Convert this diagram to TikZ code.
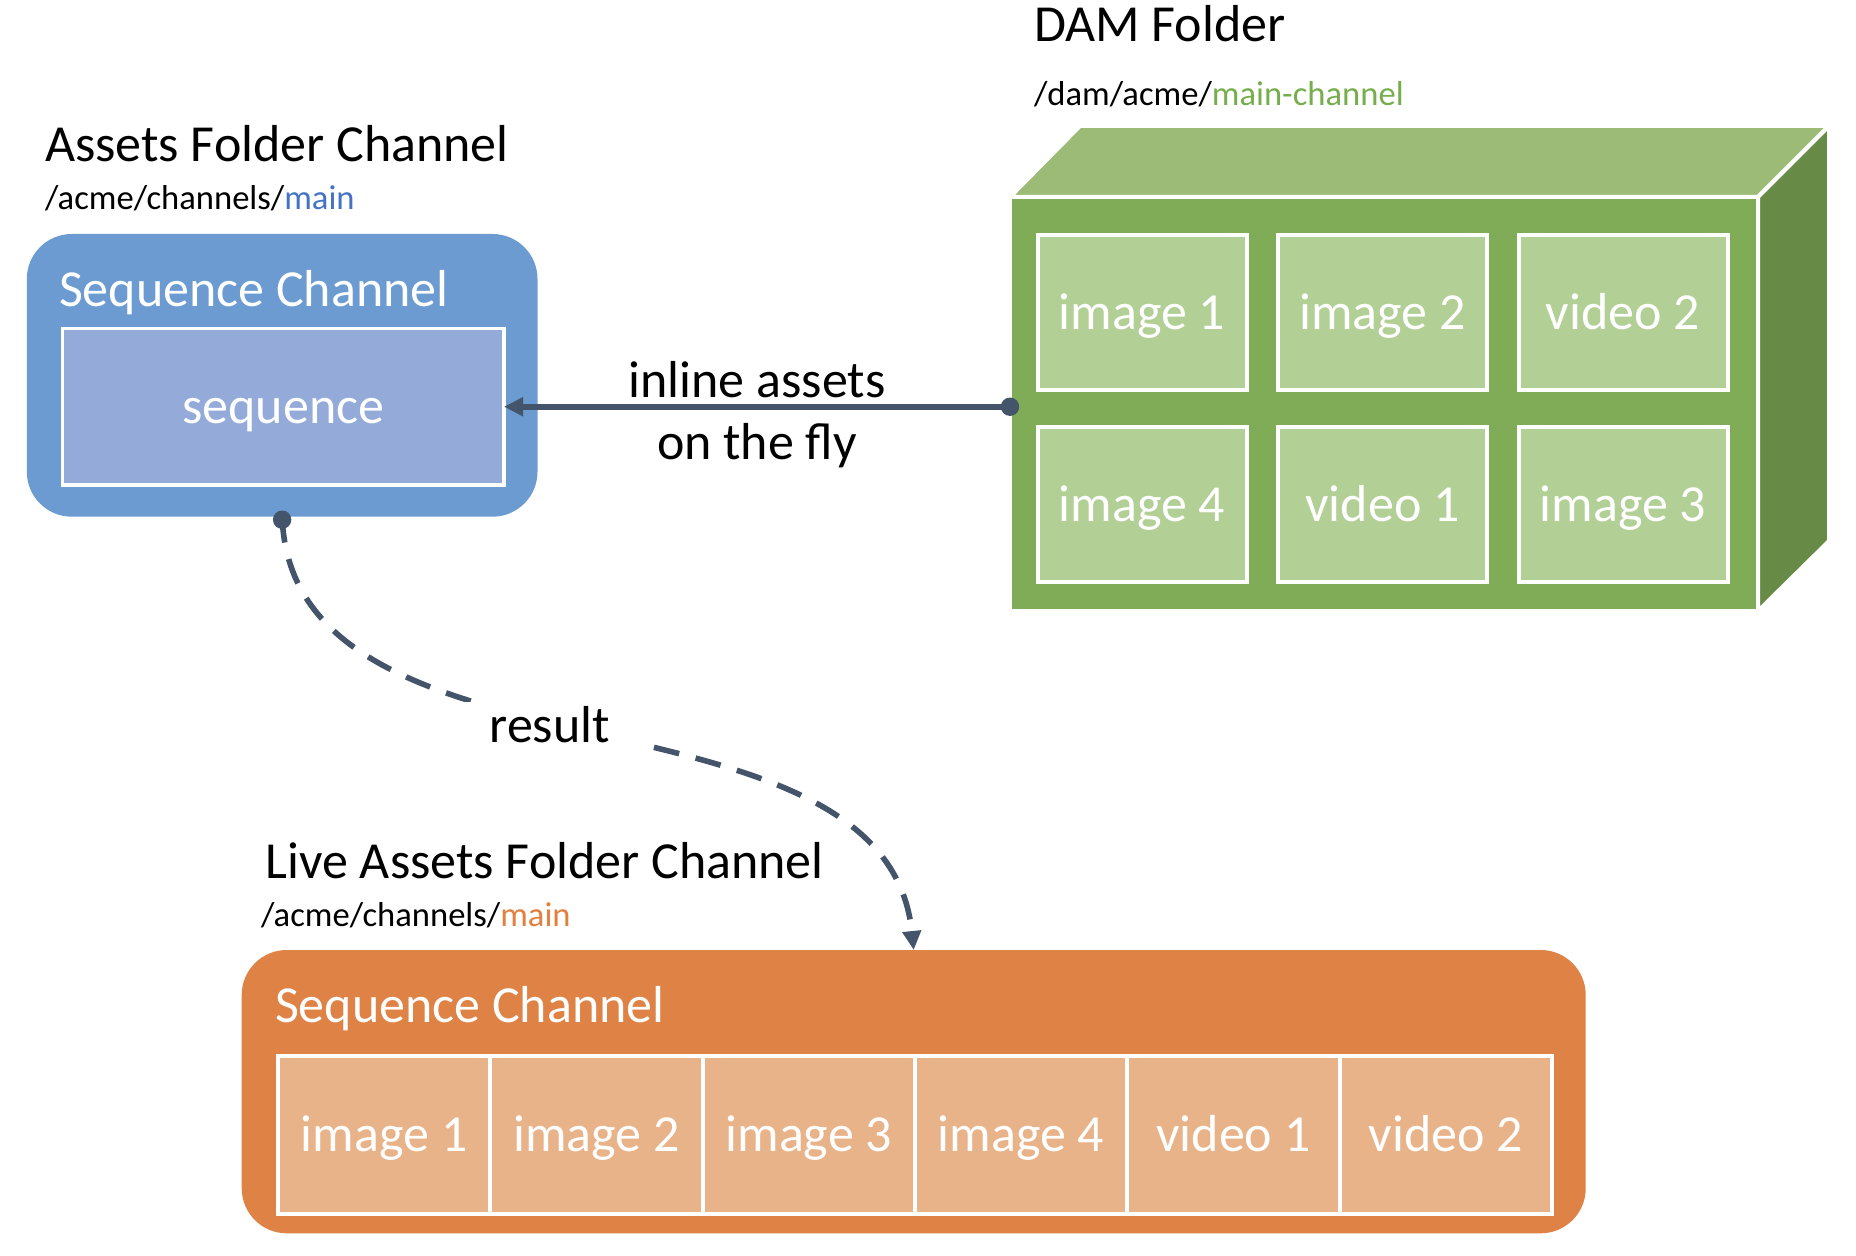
\documentclass[tikz,border=0pt]{standalone}
\usepackage{fontspec}
\setmainfont{Carlito}
\usetikzlibrary{arrows.meta}
\definecolor{bluebox}{HTML}{6B9BD0}
\definecolor{blueinner}{HTML}{94AAD8}
\definecolor{bluetext}{HTML}{4472C4}
\definecolor{greenfront}{HTML}{80AC57}
\definecolor{greentop}{HTML}{9BBB77}
\definecolor{greenside}{HTML}{678B46}
\definecolor{greencell}{HTML}{B2CF96}
\definecolor{greentext}{HTML}{76AD4D}
\definecolor{orangebox}{HTML}{DF8245}
\definecolor{orangecell}{HTML}{E9B38A}
\definecolor{orangetext}{HTML}{E2803E}
\definecolor{conncol}{HTML}{44546A}
\newcommand\fsBig{\fontsize{26}{31}\selectfont}
\newcommand\fsSmall{\fontsize{17.3}{21}\selectfont}
\begin{document}
\begin{tikzpicture}[x=0.5pt,y=-0.5pt,
  every node/.style={inner sep=0pt, outer sep=0pt},
  headlabel/.style={anchor=base west, font=\fsBig, text=black},
  pathlabel/.style={anchor=base west, font=\fsSmall, text=black},
  boxtitle/.style={anchor=base west, font=\fsBig, text=white},
  cellbox/.style={draw=white, line width=2pt, font=\fsBig, text=white, text height=16.7pt, text depth=0pt},
  greencellbox/.style={cellbox, fill=greencell, minimum width=104.5pt, minimum height=77.5pt},
  orangecellbox/.style={cellbox, fill=orangecell, minimum width=106.15pt, minimum height=79pt},
  cubeface/.style={draw=white, line width=2pt, line join=miter},
  conn/.style={draw=conncol, line width=2.8pt},
  connlabel/.style={font=\fsBig, text=black}
]
\useasboundingbox (0,0) rectangle (1856,1256);

% ---------- Assets Folder Channel (blue) ----------
\node[fill=bluebox, rounded corners=22.5pt, minimum width=255.35pt, minimum height=141.35pt] (seqA) at (282.15,375.35) {};
\node[cellbox, line width=1.8pt, fill=blueinner, minimum width=220.75pt, minimum height=78.25pt] (seqIn) at (283.25,406.75) {sequence};
\node[boxtitle] (seqAtitle) at (59,307) {Sequence Channel};
\node[headlabel] (assetsTitle) at (45,161.7) {Assets Folder Channel};
\node[pathlabel] (assetsPath) at (45,210) {/acme/channels/\textcolor{bluetext}{main}};

% ---------- DAM Folder (green cube) ----------
\filldraw[cubeface, fill=greentop] (1010,197) -- (1080,126) -- (1829,126) -- (1758,197) -- cycle;
\filldraw[cubeface, fill=greenside] (1758,197) -- (1829,126) -- (1829,541) -- (1758,611) -- cycle;
\node[fill=greenfront, draw=white, line width=2pt, minimum width=374pt, minimum height=207pt] (dam) at (1384,404) {};
\node[greencellbox] (g1) at (1142,312.6) {image 1};
\node[greencellbox] (g2) at (1382.5,312.6) {image 2};
\node[greencellbox] (g3) at (1623,312.6) {video 2};
\node[greencellbox] (g4) at (1142,504.8) {image 4};
\node[greencellbox] (g5) at (1382.5,504.8) {video 1};
\node[greencellbox] (g6) at (1623,504.8) {image 3};
\node[headlabel] (damTitle) at (1034,41.5) {DAM Folder};
\node[pathlabel] (damPath) at (1034,106) {/dam/acme/\textcolor{greentext}{main-channel}};

% ---------- Live Assets Folder Channel (orange) ----------
\node[fill=orangebox, rounded corners=22.5pt, minimum width=672pt, minimum height=141.65pt] (seqB) at (913.7,1091.65) {};
\node[boxtitle] (seqBtitle) at (275,1022.7) {Sequence Channel};
\node[orangecellbox] (o1) at (384.2,1135) {image 1};
\node[orangecellbox] (o2) at (596.5,1135) {image 2};
\node[orangecellbox] (o3) at (808.8,1135) {image 3};
\node[orangecellbox] (o4) at (1021.1,1135) {image 4};
\node[orangecellbox] (o5) at (1233.4,1135) {video 1};
\node[orangecellbox] (o6) at (1445.7,1135) {video 2};
\node[headlabel] (liveTitle) at (265.6,878.3) {Live Assets Folder Channel};
\node[pathlabel] (livePath) at (261,926) {/acme/channels/\textcolor{orangetext}{main}};

% ---------- connectors ----------
\coordinate (damIn) at (seqIn.east -| dam.west);
\draw[conn, -{Triangle[length=9.5pt,width=9pt]}] (damIn) -- (seqIn.east)
  node[connlabel, midway, anchor=base, yshift=4.6pt] (lblInline) {inline assets}
  node[connlabel, midway, anchor=base, yshift=-26.4pt] (lblFly) {on the fly};
\fill[conncol] (damIn) circle[radius=4.6pt];

\draw[conn, dash pattern=on 13pt off 8.5pt, -{Triangle[length=9.5pt,width=9pt]}]
  (seqA.south) .. controls (292,800) and (885,670) .. (seqB.north)
  node[connlabel, pos=0.455, fill=white, inner xsep=14pt, inner ysep=2pt, text depth=0pt] (lblResult) {result};
\fill[conncol] ([yshift=-1.5pt]seqA.south) circle[radius=4.6pt];
\end{tikzpicture}
\end{document}
